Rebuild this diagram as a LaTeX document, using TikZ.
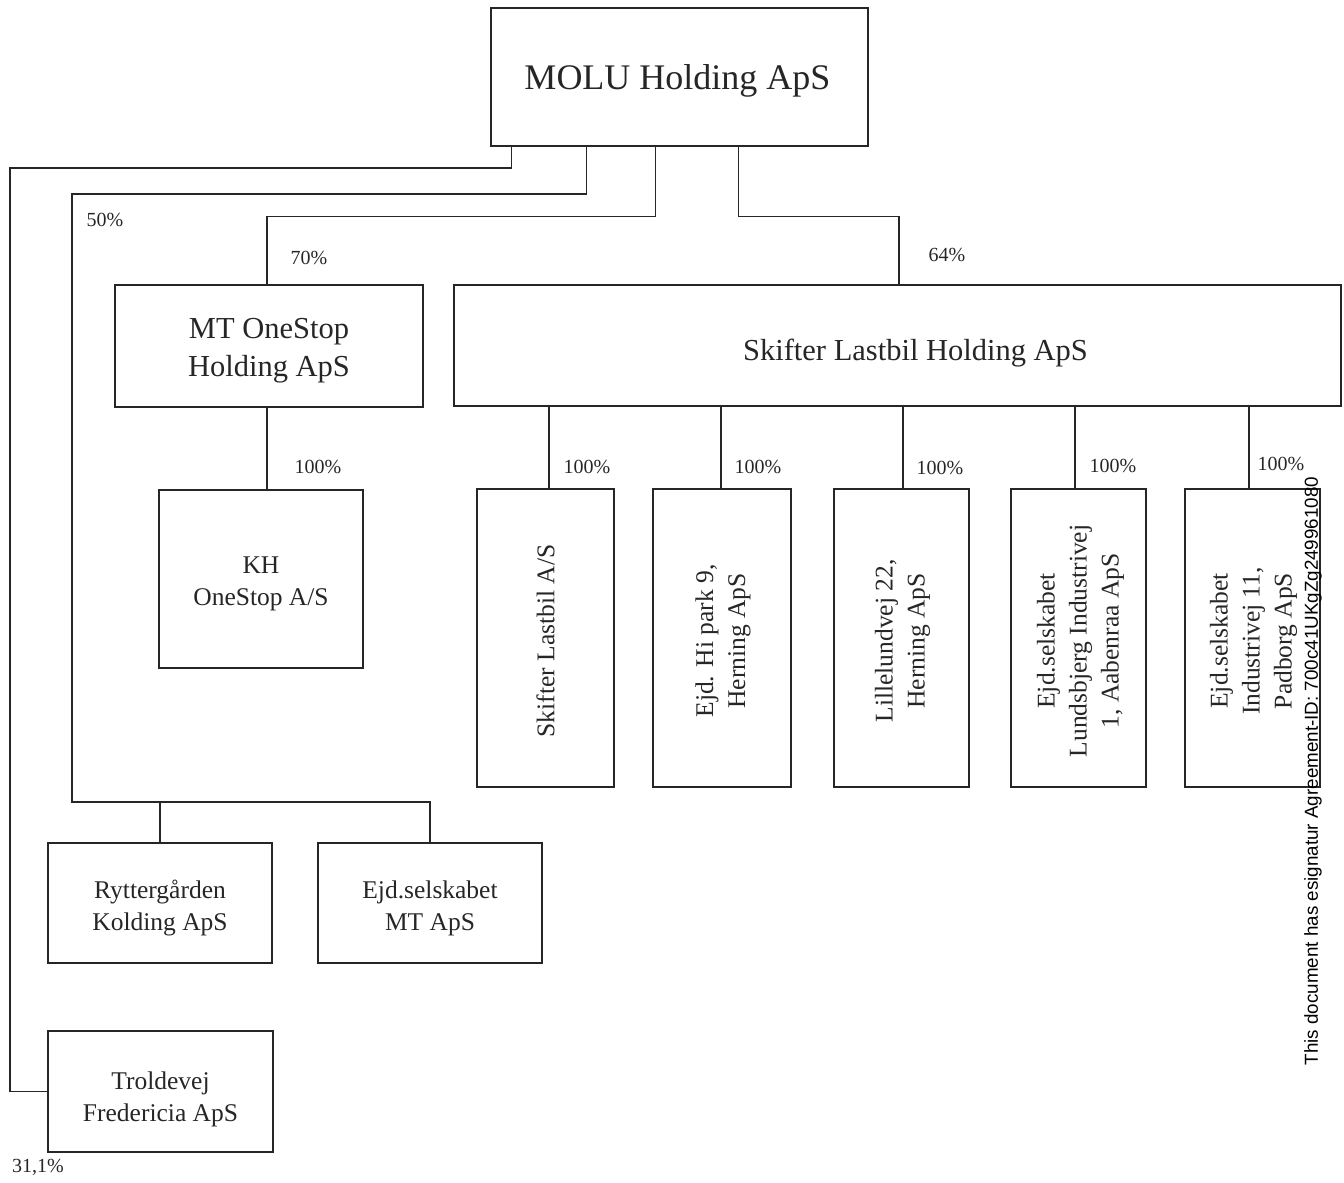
\documentclass[tikz,border=0pt]{standalone}
\usepackage{fontspec}
\setmainfont{Liberation Serif}
\newfontfamily\wmfont{Liberation Sans}
\tikzset{
  box/.style={draw=black!85, line width=1.2pt, inner sep=0pt},
  conn/.style={draw=black!85, line width=1.2pt},
  big/.style={align=center, text=black!85, font=\fontsize{36}{42}\selectfont},
  mid/.style={align=center, text=black!85, font=\fontsize{30.5}{38}\selectfont},
  sml/.style={align=center, text=black!85, font=\fontsize{25.5}{32}\selectfont},
  vtxt/.style={rotate=90, align=center, text=black!85, font=\fontsize{25.5}{32}\selectfont},
  pct/.style={text=black!85, font=\fontsize{20}{24}\selectfont, inner sep=0pt},
}
\begin{document}
\begin{tikzpicture}[x=1pt,y=-1pt]
\useasboundingbox (0,0) rectangle (1344,1183);
% boxes
\node[box,minimum width=377pt,minimum height=138pt] (molu) at (679.5,77) {};
\node[big] (molutxt) at ([xshift=-2pt,yshift=-4pt]molu.center) {MOLU Holding ApS};
\node[box,minimum width=308pt,minimum height=122pt] (mtos) at (269,346) {};
\node[mid] (mtostxt) at ([yshift=-5pt]mtos.center) {MT OneStop\\Holding ApS};
\node[box,minimum width=887pt,minimum height=121pt] (slh) at (897.5,345.5) {};
\node[mid] (slhtxt) at ([xshift=18pt,yshift=-8pt]slh.center) {Skifter Lastbil Holding ApS};
\node[box,minimum width=204pt,minimum height=178pt] (kh) at (261,579) {};
\node[sml] (khtxt) at ([yshift=-5pt]kh.center) {KH\\OneStop A/S};
\node[box,minimum width=137pt,minimum height=298pt] (c1) at (545.5,638) {};
\node[box,minimum width=138pt,minimum height=298pt] (c2) at (722,638) {};
\node[box,minimum width=135pt,minimum height=298pt] (c3) at (901.5,638) {};
\node[box,minimum width=135pt,minimum height=298pt] (c4) at (1078.5,638) {};
\node[box,minimum width=135pt,minimum height=298pt] (c5) at (1252.5,638) {};
\node[vtxt] (t1) at ([yshift=-3pt]c1.center) {Skifter Lastbil A/S};
\node[vtxt] (t2) at ([xshift=1pt,yshift=-3pt]c2.center) {Ejd. Hi park 9,\\Herning ApS};
\node[vtxt] (t3) at ([xshift=1pt,yshift=-3pt]c3.center) {Lillelundvej 22,\\Herning ApS};
\node[vtxt] (t4) at ([xshift=2pt,yshift=-3pt]c4.center) {Ejd.selskabet\\Lundsbjerg Industrivej\\1, Aabenraa ApS};
\node[vtxt] (t5) at ([xshift=1pt,yshift=-3pt]c5.center) {Ejd.selskabet\\Industrivej 11,\\Padborg ApS};
\node[box,minimum width=224pt,minimum height=120pt] (ryt) at (160,903) {};
\node[sml] (ryttxt) at ([yshift=-5pt]ryt.center) {Ryttergården\\Kolding ApS};
\node[box,minimum width=224pt,minimum height=120pt] (ejdmt) at (430,903) {};
\node[sml] (ejdmttxt) at ([yshift=-5pt]ejdmt.center) {Ejd.selskabet\\MT ApS};
\node[box,minimum width=225pt,minimum height=121pt] (trold) at (160.5,1091.5) {};
\node[sml] (troldtxt) at ([yshift=-8pt]trold.center) {Troldevej\\Fredericia ApS};
% connectors
\coordinate (l1) at (10,168);
\coordinate (l2) at (72,194);
\coordinate (l2b) at (72,802);
\draw[conn] ([xshift=21pt]molu.south west) |- (l1) |- (trold.west);
\draw[conn] ([xshift=96pt]molu.south west) |- (l2) -- (l2b) -| (ejdmt.north);
\draw[conn] (ryt.north) -- (ryt.north |- l2b);
\draw[conn] ([xshift=165pt]molu.south west) -- ++(0,70) -| ([xshift=-2pt]mtos.north);
\draw[conn] ([xshift=248pt]molu.south west) -- ++(0,70) -| ([xshift=1.5pt]slh.north);
\draw[conn] ([xshift=-2pt]mtos.south) -- ([xshift=-2pt]mtos.south |- kh.north);
\draw[conn] ([xshift=3.5pt]c1.north) -- ([xshift=3.5pt]c1.north |- slh.south);
\draw[conn] ([xshift=-1pt]c2.north) -- ([xshift=-1pt]c2.north |- slh.south);
\draw[conn] ([xshift=1.5pt]c3.north) -- ([xshift=1.5pt]c3.north |- slh.south);
\draw[conn] ([xshift=-3.5pt]c4.north) -- ([xshift=-3.5pt]c4.north |- slh.south);
\draw[conn] ([xshift=-3.5pt]c5.north) -- ([xshift=-3.5pt]c5.north |- slh.south);
% percentages
\node[pct] (p50) at (105,220) {50\%};
\node[pct] (p70) at (309,258) {70\%};
\node[pct] (p64) at (947,255) {64\%};
\node[pct] (pkh) at (318,467) {100\%};
\node[pct] (pc1) at (587,467) {100\%};
\node[pct] (pc2) at (758,467) {100\%};
\node[pct] (pc3) at (940,468) {100\%};
\node[pct] (pc4) at (1113,466) {100\%};
\node[pct] (pc5) at (1281,464) {100\%};
\node[pct] (p311) at (38,1167) {31,1\%};
% watermark
\node[rotate=90, inner sep=0pt, font=\wmfont\fontsize{18.8}{22}\selectfont] (wm) at (1313,771) {This document has esignatur Agreement-ID: 700c41UKgZg249961080};
\end{tikzpicture}
\end{document}
